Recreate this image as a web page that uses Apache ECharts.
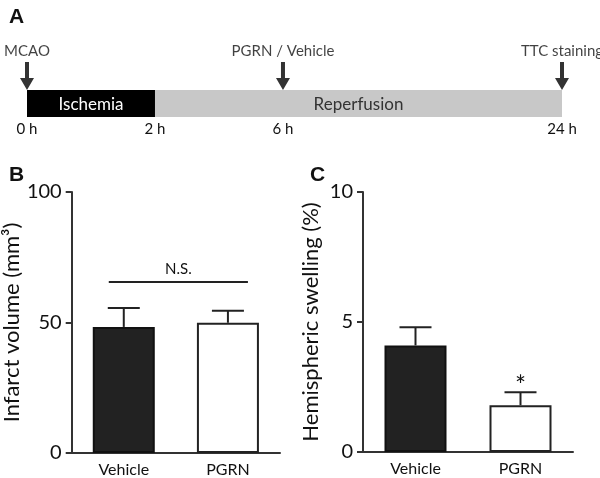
<!DOCTYPE html>
<html><head><meta charset="utf-8">
<script src="https://cdn.jsdelivr.net/npm/echarts@6/dist/echarts.min.js"></script>
<style>html,body{margin:0;padding:0;background:#fff}#c{width:600px;height:478px}</style>
</head><body><div id="c"></div>
<script>
// ---- Panel A: experimental timeline (schematic, non-linear positions) ----
const timeLabels = ['0 h', '2 h', '6 h', '24 h'];
const timeAxisPos = [0, 1, 2, 4.18];
const phaseNames = ['Ischemia', 'Reperfusion'];
const phaseStart = [0, 1];
const phaseEnd = [1, 4.18];
const eventNames = ['MCAO', 'PGRN / Vehicle', 'TTC staining'];
const eventPos = [0, 2, 4.18];

// ---- Panel B: infarct volume ----
const categories = ['Vehicle', 'PGRN'];
const infarctMean = [48.3, 49.9];
const infarctErr = [7.3, 4.6];
const infarctTicks = [0, 50, 100];
const nsLevel = 65.5;
const nsText = 'N.S.';

// ---- Panel C: hemispheric swelling ----
const swellingMean = [4.1, 1.8];
const swellingErr = [0.7, 0.5];
const swellingTicks = [0, 5, 10];
const swellingSig = ['', '*'];

const FONT = 'Lato, "Open Sans", sans-serif';
const INK = '#111';
const chart = echarts.init(document.getElementById('c'), null, {renderer: 'canvas'});

function errItem(sig) {
  return function (params, api) {
    const x = api.value(0), m = api.value(1), e = api.value(2);
    const p0 = api.coord([x, m]);
    const p1 = api.coord([x, m + e]);
    const hw = 16;
    const ch = [
      {type: 'line', shape: {x1: p0[0], y1: p0[1], x2: p1[0], y2: p1[1]}, style: {stroke: '#222', lineWidth: 2}},
      {type: 'line', shape: {x1: p1[0] - hw, y1: p1[1], x2: p1[0] + hw, y2: p1[1]}, style: {stroke: '#222', lineWidth: 2}}
    ];
    if (sig && sig[params.dataIndex]) {
      ch.push({type: 'text', x: p1[0], y: p1[1] + 7, style: {text: sig[params.dataIndex], fill: INK, font: '26px ' + FONT, align: 'center', verticalAlign: 'bottom'}});
    }
    return {type: 'group', children: ch};
  };
}

function barData(vals) {
  return vals.map((v, i) => ({
    value: v,
    itemStyle: i === 0 ? {color: '#222', borderColor: '#111', borderWidth: 2}
                       : {color: '#fff', borderColor: '#222', borderWidth: 2}
  }));
}

const valueAxisCommon = {
  type: 'value', splitLine: {show: false},
  axisLine: {show: true, lineStyle: {color: '#333', width: 2}},
  axisTick: {show: true, length: 6, lineStyle: {color: '#333', width: 2}},
  axisLabel: {fontSize: 20, color: INK, fontFamily: FONT, margin: 10},
  nameLocation: 'middle', nameTextStyle: {fontSize: 22, color: INK, fontFamily: FONT}
};
const catAxisCommon = {
  type: 'category', data: categories,
  axisLine: {show: true, lineStyle: {color: '#333', width: 2}},
  axisTick: {show: false},
  axisLabel: {fontSize: 16, color: INK, fontFamily: FONT, margin: 9}
};

const option = {
  animation: false,
  backgroundColor: '#fff',
  title: [
    {text: 'A', left: 4, top: 2, textStyle: {fontSize: 21, fontWeight: 'bold', color: INK, fontFamily: 'Liberation Sans, Arial'}},
    {text: 'B', left: 4, top: 160, textStyle: {fontSize: 21, fontWeight: 'bold', color: INK, fontFamily: 'Liberation Sans, Arial'}},
    {text: 'C', left: 305, top: 160, textStyle: {fontSize: 21, fontWeight: 'bold', color: INK, fontFamily: 'Liberation Sans, Arial'}}
  ],
  grid: [
    {left: 27, top: 90, width: 535, height: 27},
    {left: 68, top: 192, width: 212, height: 261},
    {left: 363, top: 192, width: 210, height: 260}
  ],
  xAxis: [
    {gridIndex: 0, type: 'value', min: 0, max: timeAxisPos[timeAxisPos.length - 1],
     splitLine: {show: false}, axisLine: {show: false}, axisTick: {show: false},
     axisLabel: {customValues: timeAxisPos, fontSize: 15, color: INK, fontFamily: FONT, margin: 5,
       formatter: v => { const i = timeAxisPos.indexOf(v); return i >= 0 ? timeLabels[i] : ''; }}},
    Object.assign({gridIndex: 1}, catAxisCommon),
    Object.assign({gridIndex: 2}, catAxisCommon)
  ],
  yAxis: [
    {gridIndex: 0, type: 'value', min: 0, max: 1, show: false},
    Object.assign({}, valueAxisCommon, {gridIndex: 1, min: 0, max: 100, interval: 50,
      name: 'Infarct volume (mm³)', nameGap: 48}),
    Object.assign({}, valueAxisCommon, {gridIndex: 2, min: 0, max: 10, interval: 5,
      name: 'Hemispheric swelling (%)', nameGap: 41})
  ],
  series: [
    {type: 'custom', xAxisIndex: 0, yAxisIndex: 0,
     data: phaseNames.map((n, i) => [phaseStart[i], phaseEnd[i], i]),
     encode: {x: [0, 1]},
     renderItem: function (params, api) {
       const a = api.coord([api.value(0), 1]);
       const b = api.coord([api.value(1), 0]);
       const i = api.value(2);
       return {type: 'group', children: [
         {type: 'rect', shape: {x: a[0], y: a[1], width: b[0] - a[0], height: b[1] - a[1]},
          style: {fill: i === 0 ? '#000' : '#c8c8c8'}},
         {type: 'text', x: (a[0] + b[0]) / 2, y: (a[1] + b[1]) / 2 + 1,
          style: {text: phaseNames[i], fill: i === 0 ? '#fff' : '#333', font: '17px ' + FONT, align: 'center', verticalAlign: 'middle'}}
       ]};
     }},
    {type: 'scatter', xAxisIndex: 0, yAxisIndex: 0,
     data: eventNames.map((n, i) => ({value: [eventPos[i], 1], name: n})),
     symbol: 'path://M4.5,0 L8.5,0 L8.5,16 L13.5,16 L6.5,28 L-0.5,16 L4.5,16 Z',
     symbolSize: [14, 28], symbolOffset: [0, '-50%'],
     itemStyle: {color: '#000'},
     label: {show: true, position: 'top', distance: 3, formatter: p => p.name, fontSize: 15, color: INK, fontFamily: FONT}},
    {type: 'bar', xAxisIndex: 1, yAxisIndex: 1, data: barData(infarctMean), barWidth: 62},
    {type: 'custom', xAxisIndex: 1, yAxisIndex: 1, z: 5,
     data: infarctMean.map((m, i) => [i, m, infarctErr[i]]), encode: {x: 0, y: 1},
     renderItem: errItem(null)},
    {type: 'custom', xAxisIndex: 1, yAxisIndex: 1, z: 5,
     data: [[0, 1, nsLevel]], encode: {y: 2},
     renderItem: function (params, api) {
       const a = api.coord([api.value(0), api.value(2)]);
       const b = api.coord([api.value(1), api.value(2)]);
       const x1 = a[0] - 15, x2 = b[0] + 20;
       return {type: 'group', children: [
         {type: 'line', shape: {x1: x1, y1: a[1], x2: x2, y2: a[1]}, style: {stroke: '#222', lineWidth: 2}},
         {type: 'text', x: (x1 + x2) / 2, y: a[1] - 5, style: {text: nsText, fill: INK, font: '15px ' + FONT, align: 'center', verticalAlign: 'bottom'}}
       ]};
     }},
    {type: 'bar', xAxisIndex: 2, yAxisIndex: 2, data: barData(swellingMean), barWidth: 62},
    {type: 'custom', xAxisIndex: 2, yAxisIndex: 2, z: 5,
     data: swellingMean.map((m, i) => [i, m, swellingErr[i]]), encode: {x: 0, y: 1},
     renderItem: errItem(swellingSig)}
  ]
};
chart.setOption(option);
</script></body></html>
